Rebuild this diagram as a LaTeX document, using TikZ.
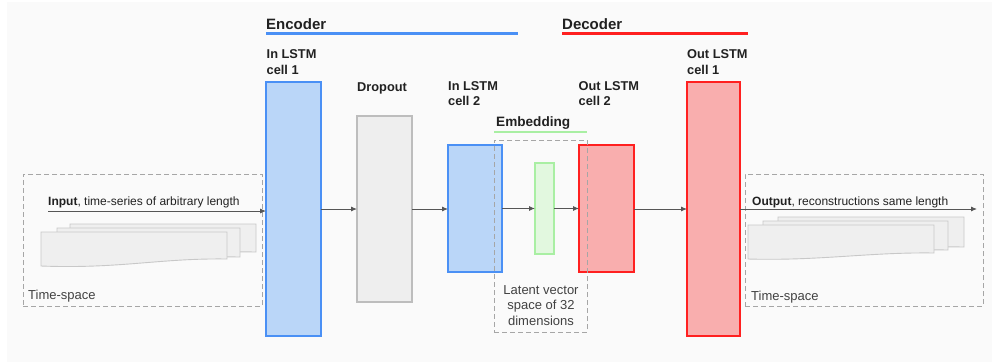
\documentclass[tikz,border=0pt]{standalone}
\usepackage{fontspec}
\setmainfont{Liberation Sans}
\usetikzlibrary{arrows.meta}
\definecolor{bgc}{HTML}{FAFAFA}
\definecolor{bluel}{HTML}{4A90F5}
\definecolor{bluef}{HTML}{BAD6F8}
\definecolor{redl}{HTML}{FF2020}
\definecolor{redf}{HTML}{F9AEAE}
\definecolor{grayl}{HTML}{BDBDBD}
\definecolor{grayf}{HTML}{EEEEEE}
\definecolor{greenl}{HTML}{A9EFA3}
\definecolor{greenf}{HTML}{E2F8DF}
\definecolor{dashc}{HTML}{A6A6A6}
\definecolor{arrc}{HTML}{555555}
\definecolor{pagel}{HTML}{C8C8C8}
\definecolor{pagef}{HTML}{EFEFEF}
\definecolor{txt}{HTML}{212121}
\tikzset{
  cellbox/.style={minimum width=#1, inner sep=0pt, outer sep=0pt},
  encbox/.style={draw=bluel, fill=bluef, line width=2pt, inner sep=0pt, outer sep=0pt},
  decbox/.style={draw=redl, fill=redf, line width=2pt, inner sep=0pt, outer sep=0pt},
  dropbox/.style={draw=grayl, fill=grayf, line width=1.6pt, inner sep=0pt, outer sep=0pt},
  embbox/.style={draw=greenl, fill=greenf, line width=1.6pt, inner sep=0pt, outer sep=0pt},
  dashbox/.style={draw=dashc, dash pattern=on 5pt off 3pt, line width=0.9pt, inner sep=0pt, outer sep=0pt},
  arr/.style={draw=arrc, line width=0.9pt, -{Latex[length=6pt,width=5pt]}},
  page/.style={draw=pagel, fill=pagef, line width=0.9pt},
  head/.style={font=\fontsize{15}{18}\selectfont\bfseries, text=txt, inner sep=0pt, anchor=base west},
  lbl/.style={font=\fontsize{12.8}{15}\selectfont\bfseries, text=txt, inner sep=0pt, anchor=base west},
  reg/.style={font=\fontsize{13}{15.5}\selectfont, text=txt!85!white, inner sep=0pt},
  io/.style={font=\fontsize{12}{14}\selectfont, text=txt, inner sep=0pt, anchor=base west},
}
\begin{document}
\begin{tikzpicture}[x=1pt,y=-1pt]
\useasboundingbox (0,0) rectangle (992,362);
\fill[white] (0,0) rectangle (992,362);
\fill[bgc] (7,2) rectangle (992,362);

% dashed time-space boxes
\node[dashbox, minimum width=239pt, minimum height=132pt] (inbox) at (142.5,240) {};
\node[dashbox, minimum width=238pt, minimum height=132pt] (outbox) at (864,240) {};

% input pages
\draw[page] (70,224) -- (256,224) -- (256,252) .. controls (200,251) and (140,259) .. (70,257) -- cycle;
\draw[page] (57,228) -- (240,228) -- (240,257) .. controls (180,256) and (120,264) .. (57,262) -- cycle;
\draw[page] (41,232) -- (227,232) -- (227,259) .. controls (160,258) and (120,269) .. (41,266) -- cycle;
% output pages
\draw[page] (778,217) -- (964,217) -- (964,247) .. controls (900,246) and (850,254) .. (778,252) -- cycle;
\draw[page] (763,221) -- (948,221) -- (948,250) .. controls (890,249) and (830,257) .. (763,255) -- cycle;
\draw[page] (748,225) -- (934,225) -- (934,253) .. controls (870,252) and (820,261) .. (748,259) -- cycle;

% cells
\node[encbox, minimum width=55pt, minimum height=254pt] (in1) at (293.5,209) {};
\node[dropbox, minimum width=55pt, minimum height=186pt] (drop) at (384.5,209) {};
\node[encbox, minimum width=54pt, minimum height=127pt] (in2) at (475,208.5) {};
\node[embbox, minimum width=19pt, minimum height=91pt] (emb) at (544.5,208.5) {};
\node[decbox, minimum width=55pt, minimum height=127pt] (out2) at (606.5,208.5) {};
\node[decbox, minimum width=53pt, minimum height=254pt] (out1) at (713.5,209) {};

% embedding dashed box
\node[dashbox, minimum width=93pt, minimum height=192pt] (embbox) at (540.5,236) {};

% arrows
\coordinate (inStart) at (48,211);
\coordinate (outEnd) at (977,209);
\draw[arr] (inStart) -- (inStart -| in1.west);
\draw[arr] (in1.east |- 0,209) -- (drop.west |- 0,209);
\draw[arr] (drop.east |- 0,209) -- (in2.west |- 0,209);
\draw[arr] (in2.east |- 0,208.5) -- (emb.west |- 0,208.5);
\draw[arr] (emb.east |- 0,208.5) -- (out2.west |- 0,208.5);
\draw[arr] (out2.east |- 0,209) -- (out1.west |- 0,209);
\draw[arr] (outEnd -| out1.east) -- (outEnd);

% headers
\node[head] (enc) at (266,29) {Encoder};
\node[head] (dec) at (562,29) {Decoder};
\draw[draw=bluel, line width=3pt] (266,33.5) -- (518,33.5);
\draw[draw=redl, line width=3pt] (562,33.5) -- (748,33.5);

% labels
\node[lbl] (l1a) at (266.5,58) {In LSTM};
\node[lbl] (l1b) at (266.5,74) {cell 1};
\node[lbl] (l2) at (357,91.5) {Dropout};
\node[lbl] (l3a) at (448,90) {In LSTM};
\node[lbl] (l3b) at (448,105.5) {cell 2};
\node[lbl] (l4a) at (578.5,90) {Out LSTM};
\node[lbl] (l4b) at (578.5,105.5) {cell 2};
\node[lbl] (l5a) at (687,58) {Out LSTM};
\node[lbl] (l5b) at (687,74) {cell 1};
\node[lbl, font=\fontsize{13.6}{16}\selectfont\bfseries] (l6) at (496,126.5) {Embedding};
\draw[draw=greenl, line width=2pt] (494,132) -- (587,132);

% latent text
\node[reg, anchor=base] (lat1) at (541,294) {Latent vector};
\node[reg, anchor=base] (lat2) at (541,309.5) {space of 32};
\node[reg, anchor=base] (lat3) at (541,325) {dimensions};

% io texts
\node[io] (intxt) at (48,205.5) {\textbf{Input}, time-series of arbitrary length};
\node[io] (outtxt) at (752,205) {\textbf{Output}, reconstructions same length};
\node[reg, anchor=base west] (ts1) at (28,299.5) {Time-space};
\node[reg, anchor=base west] (ts2) at (751,300.5) {Time-space};
\end{tikzpicture}
\end{document}
